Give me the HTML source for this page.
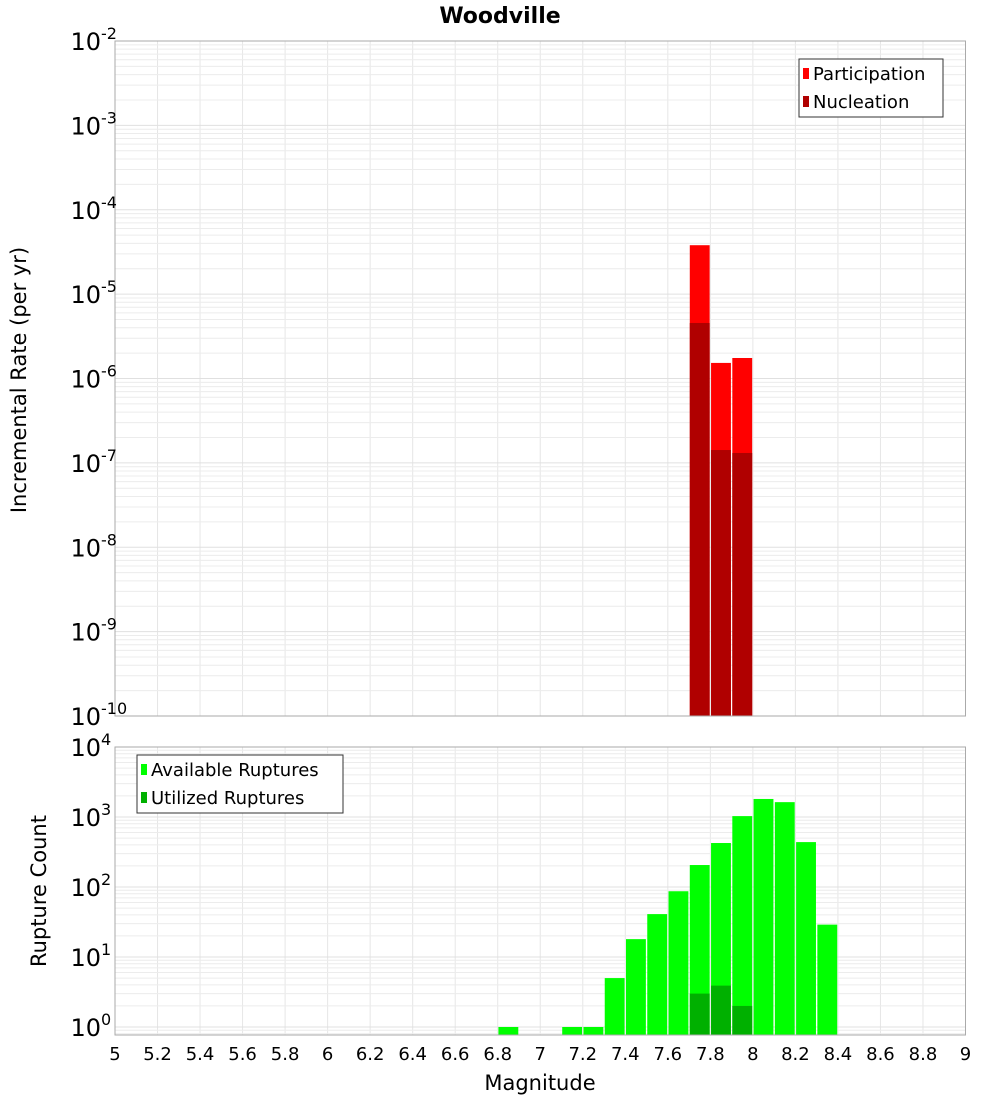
<!DOCTYPE html>
<html><head><meta charset="utf-8"><style>
body{margin:0;background:#fff;}
svg text{font-family:"DejaVu Sans","Liberation Sans",sans-serif;}
</style></head><body>
<svg id="chart" width="1000" height="1100" xmlns="http://www.w3.org/2000/svg"></svg>
<script>
const mags = [6.85,7.15,7.25,7.35,7.45,7.55,7.65,7.75,7.85,7.95,8.05,8.15,8.25,8.35];
const availableCounts = [1,1,1,5,18,41,87,206,425,1030,1810,1630,438,29];
const utilizedMags = [7.75,7.85,7.95];
const utilizedCounts = [3,3.9,2];
const rateMags = [7.75,7.85,7.95];
const participationRates = [3.8e-5,1.53e-6,1.75e-6];
const nucleationRates = [4.55e-6,1.42e-7,1.31e-7];
const xTicks = [5,5.2,5.4,5.6,5.8,6,6.2,6.4,6.6,6.8,7,7.2,7.4,7.6,7.8,8,8.2,8.4,8.6,8.8,9];
const topExps = [-2,-3,-4,-5,-6,-7,-8,-9,-10];
const botExps = [4,3,2,1,0];

const NS='http://www.w3.org/2000/svg';
const svg=document.getElementById('chart');
function el(tag,attrs,parent){const e=document.createElementNS(NS,tag);for(const k in attrs)e.setAttribute(k,attrs[k]);(parent||svg).appendChild(e);return e;}
const X0=115,X1=965.5;
const xs=m=>X0+(m-5)/4*(X1-X0);
const T0=41,T1=716;
const yTop=v=>T0+(-2-Math.log10(v))*(T1-T0)/8;
const B0=747,B1=1035,Bdec=70;
const yBot=v=>B0+(4-Math.log10(v))*Bdec;
const BW=(X1-X0)/40;

// title
const t=el('text',{x:500,y:23,'text-anchor':'middle','font-size':22,'font-weight':'bold'});
t.textContent='Woodville';



function grid(y0,y1,yf,loExp,hiExp,name){
  const g=el('g',{});
  
  
  for(const m of xTicks){el('line',{x1:xs(m),x2:xs(m),y1:y0,y2:y1,stroke:'#e6e6e6','stroke-width':1},g);}
  for(let e=loExp;e<=hiExp;e++){for(let k=1;k<10;k++){const y=yf(k*Math.pow(10,e));if(y<y0-0.5||y>y1+0.5)continue;el('line',{x1:X0,x2:X1,y1:y,y2:y,stroke:k==1?'#e0e0e0':'#ececec','stroke-width':1},g);}}
}
grid(T0,T1,yTop,-10,-3,'top-grid');
grid(B0,B1,yBot,-1,3,'bottom-grid');

// top bars
rateMags.forEach((m,i)=>{
  const x=xs(m)-BW/2+0.7;
  const p=el('rect',{x:x,y:yTop(participationRates[i]),width:BW-1.4,height:T1-yTop(participationRates[i]),fill:'#ff0000'});
  
  
  const n=el('rect',{x:x,y:yTop(nucleationRates[i]),width:BW-1.4,height:T1-yTop(nucleationRates[i]),fill:'#b00000'});
  
  
});
// bottom bars
mags.forEach((m,i)=>{
  const r=el('rect',{x:xs(m)-BW/2+0.7,y:yBot(availableCounts[i]),width:BW-1.4,height:B1-yBot(availableCounts[i]),fill:'#00ff00'});
  
  
});
utilizedMags.forEach((m,i)=>{
  const r=el('rect',{x:xs(m)-BW/2+0.7,y:yBot(utilizedCounts[i]),width:BW-1.4,height:B1-yBot(utilizedCounts[i]),fill:'#00b000'});
  
  
});

// frames
const f1=el('rect',{x:X0,y:T0,width:X1-X0,height:T1-T0,fill:'none',stroke:'#aaa','stroke-width':1});


const f2=el('rect',{x:X0,y:B0,width:X1-X0,height:B1-B0,fill:'none',stroke:'#aaa','stroke-width':1});



// y tick labels
function ylabel(y,exp,name){
  const tx=el('text',{x:101,y:y+9,'text-anchor':'end','font-size':24});
  tx.textContent='10';
  
  
  const s=el('text',{x:101,y:y-2,'font-size':16});
  s.textContent=String(exp);
  
  
}
topExps.forEach(e=>ylabel(yTop(Math.pow(10,e)),e,'top-y-tick-label'));
botExps.forEach(e=>ylabel(yBot(Math.pow(10,e)),e,'bottom-y-tick-label'));

// x ticks
xTicks.forEach(m=>{
  const tx=el('text',{x:xs(m),y:1060,'text-anchor':'middle','font-size':18});
  tx.textContent=String(m);
  
  
});
const xl=el('text',{x:540,y:1090,'text-anchor':'middle','font-size':21});
xl.textContent='Magnitude';


const yl1=el('text',{x:0,y:0,'text-anchor':'middle','font-size':21,transform:'translate(26,380) rotate(-90)'});
yl1.textContent='Incremental Rate (per yr)';


const yl2=el('text',{x:0,y:0,'text-anchor':'middle','font-size':21,transform:'translate(46,891) rotate(-90)'});
yl2.textContent='Rupture Count';



// legends
function legend(x,y,w,items,name){
  const g=el('g',{});
  
  
  el('rect',{x:x,y:y,width:w,height:58,fill:'#fff',stroke:'#333','stroke-width':1},g);
  items.forEach((it,i)=>{
    el('rect',{x:x+4,y:y+9+i*28,width:6,height:11,fill:it[1]},g);
    const tx=el('text',{x:x+14,y:y+21+i*28,'font-size':18},g);
    tx.textContent=it[0];
    
    
  });
}
legend(799,59,144,[['Participation','#ff0000'],['Nucleation','#b00000']],'top-legend');
legend(137,755,206,[['Available Ruptures','#00ff00'],['Utilized Ruptures','#00b000']],'bottom-legend');
</script>
</body></html>
